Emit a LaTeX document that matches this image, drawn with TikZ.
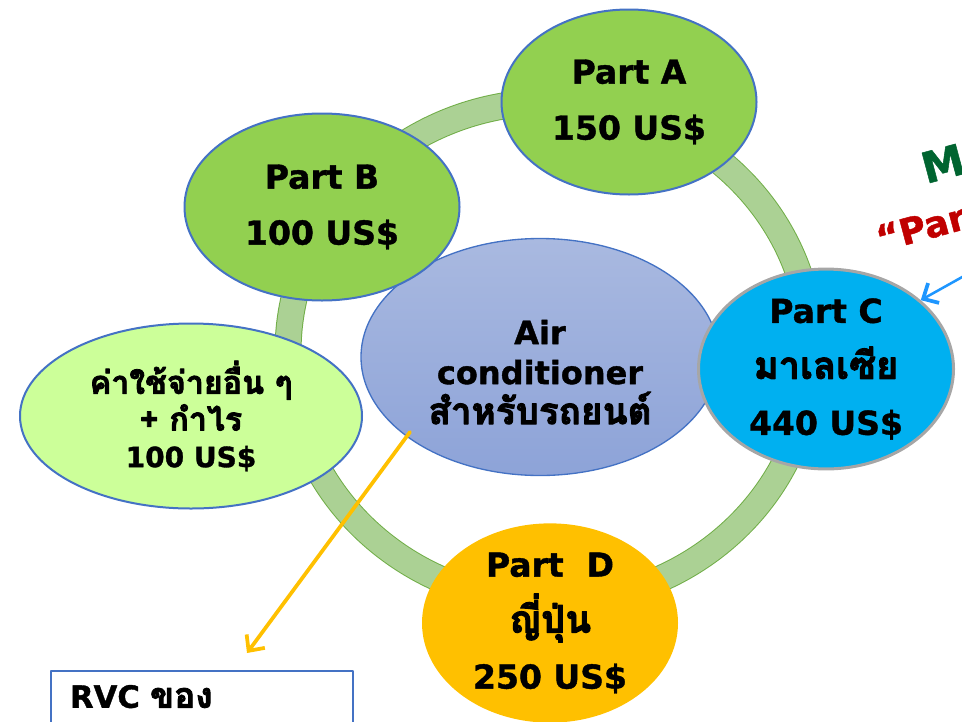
\documentclass[tikz,border=0pt]{standalone}
\usepackage{fontspec}
\setmainfont{DejaVu Sans}[BoldFeatures={FakeBold=1.2}]
\newfontfamily\thaifont[Script=Thai, Scale=1.15, FakeBold=2.5]{Loma}
\usetikzlibrary{shapes.geometric,arrows.meta}
\definecolor{partgreen}{HTML}{92D050}
\definecolor{palegreen}{HTML}{CCFF99}
\definecolor{edgeblue}{HTML}{4472C4}
\definecolor{skyblue}{HTML}{00B0F0}
\definecolor{greyedge}{HTML}{A6A6A6}
\definecolor{gold}{HTML}{FFC000}
\definecolor{ringfill}{HTML}{ABD194}
\definecolor{ringedge}{HTML}{70AD47}
\definecolor{acTop}{HTML}{A9B9E0}
\definecolor{acBot}{HTML}{8DA3D8}
\definecolor{arrowblue}{HTML}{1E96FF}
\definecolor{darkgreen}{HTML}{006430}
\definecolor{darkred}{HTML}{C00000}
\begin{document}
\begin{tikzpicture}[x=0.75pt, y=-0.75pt, line join=round, line cap=round,
  part/.style={ellipse, draw=edgeblue, line width=1.5pt, fill=partgreen,
    minimum width=191.25pt, minimum height=138.75pt, inner sep=0pt, align=center,
    font=\fontsize{24.75}{42}\selectfont\bfseries},
  pointer/.style={line width=2.8pt, -{Straight Barb[length=9pt, width=17pt, line width=2.8pt]}}]
	\useasboundingbox (0,0) rectangle (962,721);
	\clip (0,0) rectangle (962,721);
	% ring behind the parts
	\draw[line width=20.25pt, ringedge] (550,352) ellipse [x radius=196.5pt, y radius=187.5pt];
	\draw[line width=18.75pt, ringfill] (550,352) ellipse [x radius=196.5pt, y radius=187.5pt];
	% the product in the middle
	\node[ellipse, draw=edgeblue, line width=1pt, top color=acTop, bottom color=acBot,
		minimum width=268.5pt, minimum height=177.75pt] (ac) at (540,357) {};
	\node[align=center, inner sep=0pt, font=\fontsize{24}{30}\selectfont\bfseries] (actext) at (540,372)
		{Air\\conditioner\\{\thaifont สำหรับรถยนต์}};
	% parts
	\node[part] (pa) at (629,102) {Part A\\150 US\$};
	\node[part, minimum width=206.25pt, minimum height=140.25pt] (pb) at (322,207) {Part B\\100 US\$};
	\node[part, fill=palegreen, minimum width=256.5pt, font=\fontsize{21}{27.5}\selectfont\bfseries] (other) at (191,416)
		{{\thaifont ค่าใช้จ่ายอื่น ๆ}\\{\thaifont + กำไร}\\100 US\$};
	\node[part, fill=skyblue, draw=greyedge, line width=2.25pt, minimum height=148.5pt] (pc) at (826,369)
		{Part C\\{\thaifont มาเลเซีย}\\440 US\$};
	\node[part, fill=gold, draw=none, minimum width=192pt, minimum height=140.25pt] (pd) at (550,623)
		{Part~~D\\{\thaifont ญี่ปุ่น}\\250 US\$};
	% RVC box
	\node[draw=edgeblue, line width=1.5pt, anchor=north west, inner xsep=14.25pt, inner ysep=10.5pt,
		text width=198pt, text depth=30pt, align=left, font=\fontsize{23}{28}\selectfont\bfseries] (rvc) at (50,670)
		{RVC {\thaifont ของ}};
	% arrows
	\coordinate (o1) at (410,432);
	\coordinate (o2) at (247,653);
	\draw[pointer, gold] (o1) -- (o2);
	\coordinate (bl) at (998,257);
	\draw[pointer, arrowblue, line width=1.9pt] (bl) -- (pc.36);
	% text cut by the right edge
	\node[rotate=15, anchor=base west, inner sep=0pt, text=darkgreen, font=\fontsize{32}{32}\selectfont\bfseries] (mtxt) at (926,184) {M};
	\node[rotate=15, anchor=base west, inner sep=0pt, text=darkred, font=\fontsize{27}{27}\selectfont\bfseries] (ptxt) at (880,252) {“Par};
\end{tikzpicture}
\end{document}
